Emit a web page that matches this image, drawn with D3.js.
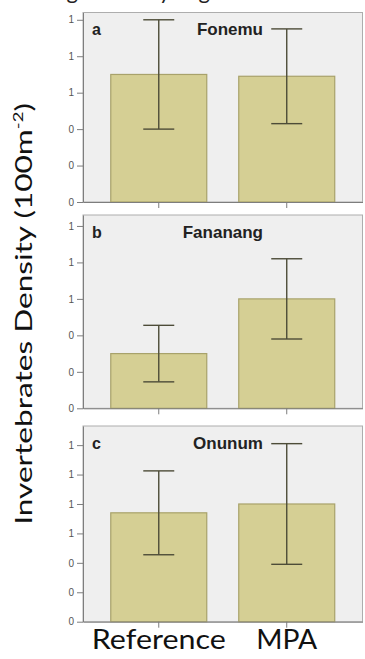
<!DOCTYPE html>
<html>
<head>
<meta charset="utf-8">
<script src="https://cdn.jsdelivr.net/npm/d3@7"></script>
<style>
  html, body { margin: 0; padding: 0; background: #fff; }
  svg { display: block; }
</style>
</head>
<body>
<script>
// ---- data ----
const sites = ["Fonemu", "Fananang", "Onunum"];
const panelLetters = ["a", "b", "c"];
const groups = ["Reference", "MPA"];
// mean invertebrate density per site
const meanRef = [0.70, 0.30, 0.74];
const meanMPA = [0.69, 0.60, 0.80];
// error bar half-lengths
const errRef = [0.30, 0.155, 0.285];
const errMPA = [0.26, 0.22, 0.41];
// y tick values per panel (labels are rounded to whole numbers)
const yTicksA = [0, 0.2, 0.4, 0.6, 0.8, 1.0];
const yTicksB = [0, 0.2, 0.4, 0.6, 0.8, 1.0];
const yTicksC = [0, 0.2, 0.4, 0.6, 0.8, 1.0, 1.2];
const yMax = [1.04, 1.06, 1.33];
const yTitle = "Invertebrates Density (100m";
const yTitleSup = "-2";

// ---- layout ----
const W = 365, H = 659;
const plotLeft = 83, plotRight = 362.5;
const panelBox = [
  { top: 12.5, bottom: 202 },
  { top: 215, bottom: 408.3 },
  { top: 426, bottom: 621.7 }
];
const yTickSets = [yTicksA, yTicksB, yTicksC];

const svg = d3.select("body").append("svg")
  .attr("width", W).attr("height", H)
  .style("font-family", "'Liberation Sans', Arial, sans-serif");

svg.append("rect").attr("width", W).attr("height", H).attr("fill", "#fff");

// caption line running off the top edge
svg.append("text")
  .attr("x", 22).attr("y", -1)
  .attr("font-family", "Lato, sans-serif")
  .attr("font-size", 22)
  .attr("fill", "#222")
  .text("rating a density in general and");

const x = d3.scaleBand()
  .domain(groups)
  .range([plotLeft, plotRight])
  .paddingInner(0.25)
  .paddingOuter(0.217);

const fmt = d3.format(".0f");

sites.forEach((site, i) => {
  const box = panelBox[i];
  const y = d3.scaleLinear().domain([0, yMax[i]]).range([box.bottom, box.top]);
  const g = svg.append("g");

  // plot area
  g.append("rect")
    .attr("x", plotLeft).attr("y", box.top)
    .attr("width", plotRight - plotLeft).attr("height", box.bottom - box.top)
    .attr("fill", "#efefef").attr("stroke", "#adadad").attr("stroke-width", 1);

  const means = [meanRef[i], meanMPA[i]];
  const errs = [errRef[i], errMPA[i]];
  const rows = groups.map((grp, k) => ({ grp, mean: means[k], err: errs[k] }));

  // bars
  g.selectAll("rect.bar").data(rows).join("rect")
    .attr("class", "bar")
    .attr("x", d => x(d.grp))
    .attr("width", x.bandwidth())
    .attr("y", d => y(d.mean))
    .attr("height", d => y(0) - y(d.mean))
    .attr("fill", "#d5cf94")
    .attr("stroke", "#a8a26b")
    .attr("stroke-width", 1.2);

  // error bars
  const capHalf = 15.5;
  const eb = g.selectAll("g.eb").data(rows).join("g").attr("class", "eb")
    .attr("stroke", "#4d4c38").attr("stroke-width", 1.4).attr("fill", "none");
  eb.append("line")
    .attr("x1", d => x(d.grp) + x.bandwidth() / 2)
    .attr("x2", d => x(d.grp) + x.bandwidth() / 2)
    .attr("y1", d => y(d.mean - d.err))
    .attr("y2", d => y(d.mean + d.err));
  eb.append("line")
    .attr("x1", d => x(d.grp) + x.bandwidth() / 2 - capHalf)
    .attr("x2", d => x(d.grp) + x.bandwidth() / 2 + capHalf)
    .attr("y1", d => y(d.mean + d.err))
    .attr("y2", d => y(d.mean + d.err));
  eb.append("line")
    .attr("x1", d => x(d.grp) + x.bandwidth() / 2 - capHalf)
    .attr("x2", d => x(d.grp) + x.bandwidth() / 2 + capHalf)
    .attr("y1", d => y(d.mean - d.err))
    .attr("y2", d => y(d.mean - d.err));

  // y axis
  const ya = g.append("g")
    .attr("transform", `translate(${plotLeft},0)`)
    .call(d3.axisLeft(y).tickValues(yTickSets[i]).tickFormat(fmt).tickSize(6).tickPadding(3).tickSizeOuter(0));
  ya.select(".domain").attr("stroke", "#7d7d7d");
  ya.selectAll(".tick line").attr("stroke", "#7d7d7d");
  ya.selectAll(".tick text")
    .attr("font-size", 10).attr("fill", "#555")
    .attr("font-family", "'Liberation Sans', Arial, sans-serif");

  // x axis ticks
  const xa = g.append("g")
    .attr("transform", `translate(0,${box.bottom})`)
    .call(d3.axisBottom(x).tickSize(6).tickSizeOuter(0).tickPadding(3)
      .tickFormat(i === sites.length - 1 ? (d => d) : () => ""));
  xa.select(".domain").attr("stroke", "#7d7d7d");
  xa.selectAll(".tick line").attr("stroke", "#7d7d7d");
  xa.selectAll(".tick text")
    .attr("font-family", "Lato, sans-serif")
    .attr("font-size", 26)
    .attr("fill", "#111");

  // panel letter and site name
  g.append("text")
    .attr("x", 92).attr("y", box.top + 22.5)
    .attr("font-size", 16).attr("font-weight", "bold").attr("fill", "#222")
    .text(panelLetters[i]);
  g.append("text")
    .attr("x", 263).attr("y", box.top + 22.5)
    .attr("text-anchor", "end")
    .attr("font-size", 17).attr("font-weight", "bold").attr("fill", "#222")
    .text(site);
});

// stretch bottom category labels to their printed widths
const xLabelWidth = { "Reference": 134, "MPA": 61 };
svg.selectAll(".tick text").each(function (d) {
  if (xLabelWidth[d] && this.textContent) {
    d3.select(this).attr("textLength", xLabelWidth[d]).attr("lengthAdjust", "spacingAndGlyphs");
  }
});

// y axis title
const yt = svg.append("text")
  .attr("text-anchor", "middle")
  .attr("font-family", "Lato, sans-serif")
  .attr("font-size", 24)
  .attr("fill", "#111");
yt.append("tspan").text(yTitle);
yt.append("tspan").attr("font-size", 14).attr("dy", -9).text(yTitleSup);
yt.append("tspan").attr("dy", 9).text(")");
const natural = yt.node().getComputedTextLength();
const targetLen = 422;
yt.attr("transform", `translate(32,314) rotate(-90) scale(${targetLen / natural},1)`);
</script>
</body>
</html>
